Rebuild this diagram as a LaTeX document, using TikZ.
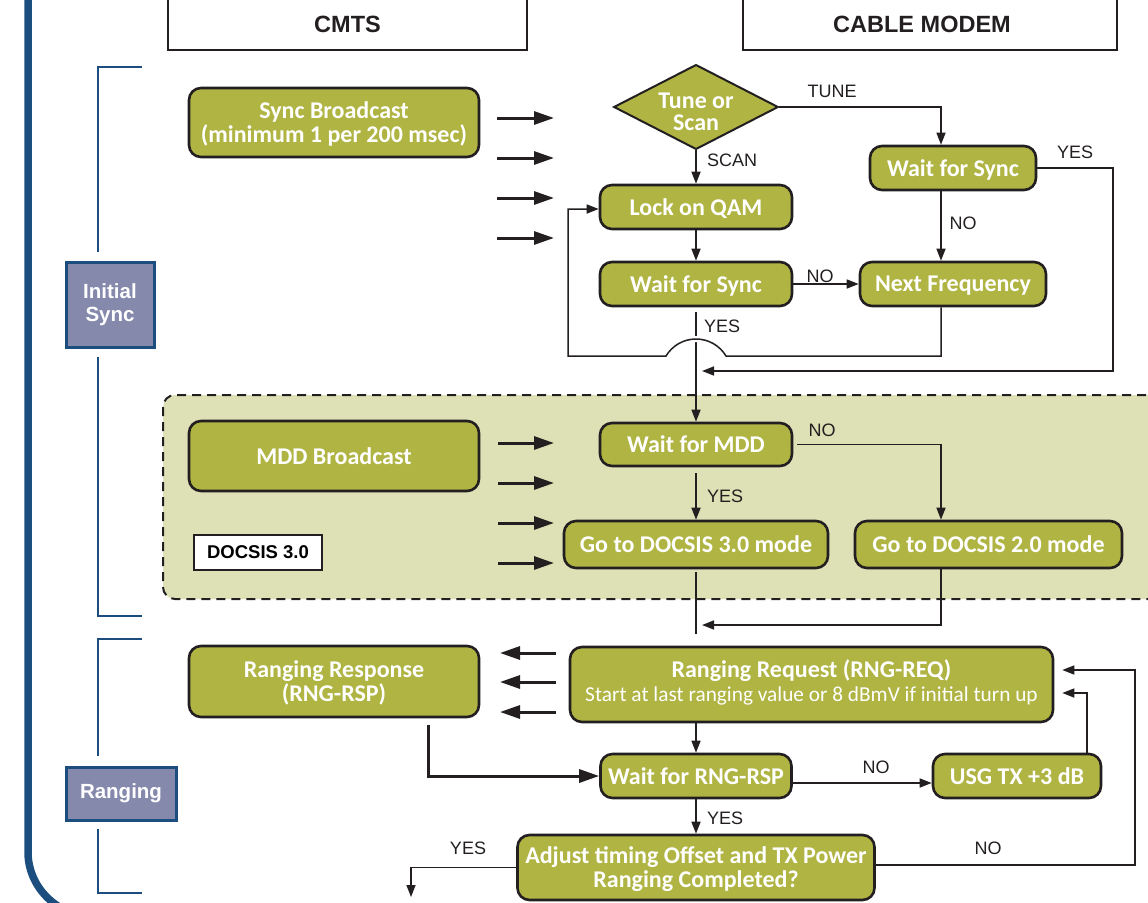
\documentclass[tikz,border=0pt]{standalone}
\usepackage{fontspec}
\newfontfamily\carlito{Carlito}
\newfontfamily\arial{Liberation Sans}
\usetikzlibrary{shapes.geometric,arrows.meta,calc}
\definecolor{oliva}{RGB}{175,180,67}
\definecolor{zona}{RGB}{222,224,182}
\definecolor{tinta}{RGB}{35,31,32}
\definecolor{azul}{RGB}{27,78,126}
\definecolor{lila}{RGB}{133,137,172}

\begin{document}
\begin{tikzpicture}[x=1pt,y=-1pt,
        caja/.style={rectangle,rounded corners=12pt,draw=tinta,fill=oliva,line width=2.6pt,text=white,
          align=center,inner sep=0pt,text depth=0pt,font=\carlito\bfseries\fontsize{24}{24}\selectfont},
        rombo/.style={diamond,draw=tinta,fill=oliva,line width=2pt,text=white,align=center,inner sep=0pt,
          shape aspect=1.94,text depth=0pt,font=\carlito\bfseries\fontsize{24}{22}\selectfont},
        cabeza/.style={rectangle,draw=tinta,line width=2pt,text=tinta,font=\arial\bfseries\fontsize{23.5}{24}\selectfont},
        fase/.style={rectangle,draw=azul,fill=lila,line width=3pt,text=white,align=center,
          font=\arial\bfseries\fontsize{20.5}{23}\selectfont},
        etq/.style={text=tinta,font=\arial\fontsize{18}{18}\selectfont},
        flecha/.style={draw=tinta,line width=1.5pt,-{Triangle[length=12pt,width=9pt]}},
        linea/.style={draw=tinta,line width=1.5pt},
        mensaje/.style={draw=tinta,line width=3pt,-{Triangle[length=20pt,width=13pt]}},
        llave/.style={draw=azul,line width=2.2pt},
        marco/.style={draw=tinta,fill=zona,line width=2pt,rounded corners=12pt,dash pattern=on 9pt off 6pt}]
      \useasboundingbox (0,0) rectangle (1148,902);
      % fondo
      \draw[azul,line width=7.5pt] (28,-10) -- (28,852) .. controls (28,887) and (57,916) .. (92,916);
      \draw[marco] (163,395) rectangle (1162,599);
      \draw[llave] (142,67) -- (98,67) -- (98,252) (98,357) -- (98,616) -- (142,616);
      \draw[llave] (142,639) -- (98,639) -- (98,756) (98,829) -- (98,893) -- (142,893);
      % cabeceras y fases
      \node [cabeza,minimum width=359pt,minimum height=52pt] (cmts) at (347.5,24)  {CMTS};
      \node [cabeza,minimum width=374pt,minimum height=52pt] (cm)   at (930,24)    {CABLE MODEM\hspace*{16pt}};
      \node [fase,minimum width=88pt,minimum height=85pt]    (is)   at (110,304.5) {Initial\\Sync};
      \node [fase,minimum width=110pt,minimum height=53pt]   (rg)   at (121,793.5) {Ranging};
      % CMTS
      \node [caja,minimum width=290pt,minimum height=69pt] (sb)  at (334,122.5) {Sync Broadcast\\(minimum 1 per 200 msec)};
      \node [caja,minimum width=290pt,minimum height=70pt] (mb)  at (334,456)   {MDD Broadcast};
      \node [caja,minimum width=290pt,minimum height=71pt] (rr)  at (334,681.5) {Ranging Response\\(RNG-RSP)};
      \node [rectangle,draw=tinta,fill=white,line width=2pt,minimum width=128pt,minimum height=35pt,
             font=\arial\bfseries\fontsize{18.5}{18}\selectfont] (dc) at (258,552) {DOCSIS 3.0};
      % cable modem
      \node [rombo,minimum width=163pt,minimum height=84pt] (ts) at (696,107) {\rule{0pt}{24pt}Tune or\\Scan};
      \node [caja,minimum width=192pt,minimum height=44pt] (lq)  at (696,207)   {Lock on QAM};
      \node [caja,minimum width=192pt,minimum height=44pt] (ws1) at (696,284)   {Wait for Sync};
      \node [caja,minimum width=166pt,minimum height=44pt] (ws2) at (953,168)   {Wait for Sync};
      \node [caja,minimum width=186pt,minimum height=44pt] (nf)  at (953,284)   {Next Frequency};
      \node [caja,minimum width=192pt,minimum height=43pt] (wm)  at (696,444.5) {Wait for MDD};
      \node [caja,minimum width=264pt,minimum height=47pt] (d3)  at (696,544.5) {Go to DOCSIS 3.0 mode};
      \node [caja,minimum width=267pt,minimum height=47pt] (d2)  at (988.5,544.5) {Go to DOCSIS 2.0 mode};
      \node [caja,minimum width=483pt,minimum height=75pt,text depth=7pt] (rq)  at (811.5,684.5)
            {Ranging Request (RNG-REQ)\\{\mdseries\fontsize{21.3}{25}\selectfont Start at last ranging value or 8 dBmV if initial turn up}};
      \node [caja,minimum width=191pt,minimum height=44pt] (wr)  at (696,776)   {Wait for RNG-RSP};
      \node [caja,minimum width=168pt,minimum height=44pt] (usg) at (1017,776)  {USG TX +3 dB};
      \node [caja,minimum width=357pt,minimum height=65pt] (adj) at (696,867.5) {Adjust timing Offset and TX Power\\Ranging Completed?};
      \coordinate (j1)  at (696,371);
      \coordinate (j2)  at (696,625);
      \coordinate (fin) at (411,897);
      % mensajes
      \foreach \y in {118,158,198,238} \draw[mensaje] (497,\y) -- (554,\y);
      \foreach \y in {443,483,523,563} \draw[mensaje] (498,\y) -- (554,\y);
      \foreach \y in {653,682,712} \draw[mensaje] (556,\y) -- (500,\y);
      % flujo
      \draw[flecha] (ts.east) -| ($(ws2.north)+(-12,0)$) node[etq] at (832,91) {TUNE};
      \draw[flecha] (ts.south) -- (lq.north) node[etq] at (732,160) {SCAN};
      \draw[flecha] (lq.south) -- (ws1.north);
      \draw[flecha] (ws1.east) -- (nf.west) node[etq] at (820,276) {NO};
      \draw[flecha] ($(ws2.south)+(-12,0)$) -- ($(nf.north)+(-12,0)$) node[etq] at (963,223) {NO};
      \draw[flecha,shorten <=5pt] (ws1.south) -- (wm.north) node[etq] at (722,326) {YES};
      \draw[white,line width=6pt] (666,356) .. controls (672.3,345.5) and (683.7,339) .. (696,339)
            .. controls (708.3,339) and (719.7,345.5) .. (726,356);
      \draw[flecha] ($(nf.south)+(-12,0)$) |- (726,356) .. controls (719.7,345.5) and (708.3,339) .. (696,339)
            .. controls (683.7,339) and (672.3,345.5) .. (666,356) -- (568,356) |- ($(lq.west)+(0,2)$);
      \draw[flecha,shorten >=6pt] (ws2.east) -| (1113,371) -- (j1) node[etq] at (1075,152) {YES};
      \draw[flecha,shorten <=4pt] (wm.east) -| ($(d2.north)+(-47.5,0)$) node[etq] at (822,430) {NO};
      \draw[flecha,shorten <=6pt] (wm.south) -- (d3.north) node[etq] at (725,496) {YES};
      \draw[linea,shorten <=3pt,shorten >=12pt] (d3.south) -- (d3.south |- rq.north);
      \draw[flecha,shorten >=6pt] ($(d2.south)+(-47.5,0)$) |- (j2);
      \draw[flecha] (wr.north |- rq.south) -- (wr.north);
      \draw[mensaje] ($(rr.south)+(94,7)$) |- (wr.west);
      \draw[flecha] ($(wr.east)+(0,7)$) -- ($(usg.west)+(0,7)$) node[etq] at (876,767) {NO};
      \draw[flecha,shorten >=8pt] ($(usg.north)+(70,0)$) |- ($(rq.east)+(0,8.5)$);
      \draw[flecha,shorten >=8pt] ($(adj.east)+(0,-2.5)$) -- ++(259,0) |- ($(rq.east)+(0,-14.5)$) node[etq] at (988,848) {NO};
      \draw[flecha] (wr.south) -- (adj.north) node[etq] at (725,818) {YES};
      \draw[flecha] (adj.west) -| (fin) node[etq] at (468,848) {YES};
    \end{tikzpicture}
\end{document}
